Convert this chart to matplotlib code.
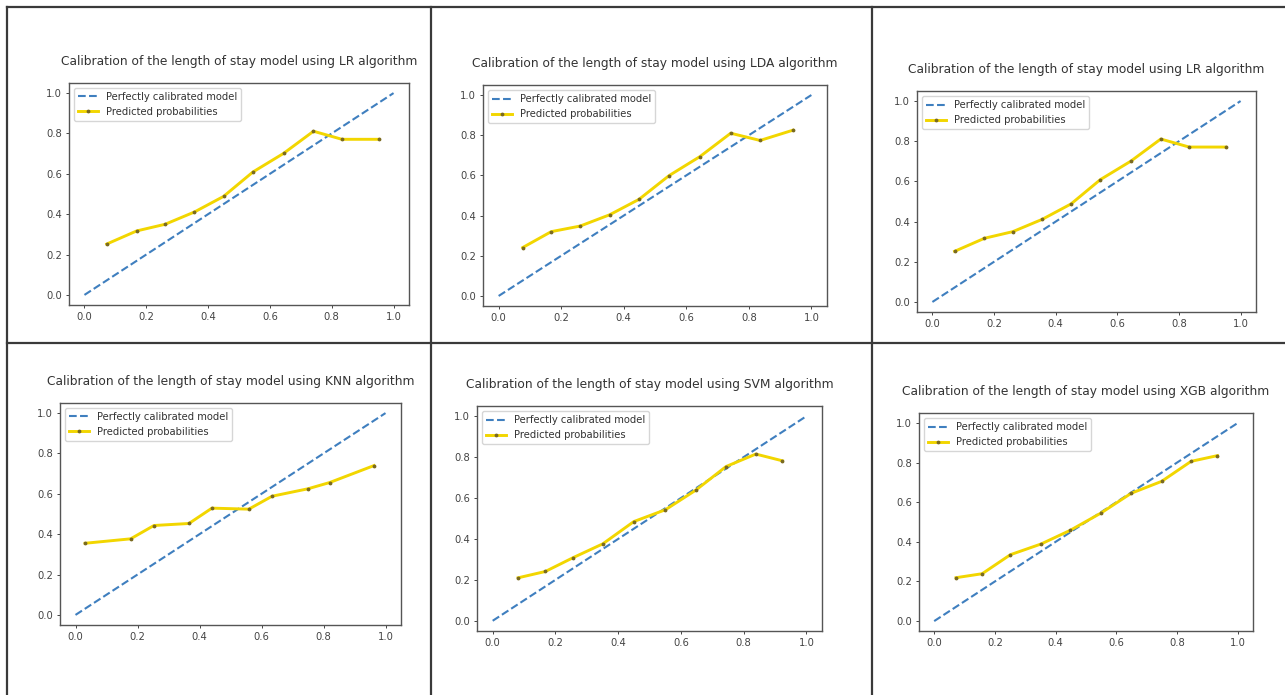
import matplotlib
matplotlib.use("Agg")
import matplotlib.pyplot as plt
from matplotlib.lines import Line2D

# Calibration curves (mean predicted prob, fraction of positives)
lr_pred = [0.072, 0.169, 0.261, 0.356, 0.450, 0.545, 0.644, 0.741, 0.833, 0.952]
lr_frac = [0.252, 0.317, 0.350, 0.411, 0.488, 0.609, 0.701, 0.811, 0.771, 0.771]

lda_pred = [0.077, 0.168, 0.261, 0.355, 0.449, 0.545, 0.644, 0.742, 0.836, 0.941]
lda_frac = [0.241, 0.320, 0.348, 0.404, 0.481, 0.599, 0.694, 0.810, 0.774, 0.825]

knn_pred = [0.031, 0.178, 0.253, 0.366, 0.440, 0.559, 0.634, 0.750, 0.820, 0.963]
knn_frac = [0.355, 0.377, 0.443, 0.453, 0.529, 0.524, 0.588, 0.625, 0.656, 0.740]

svm_pred = [0.081, 0.168, 0.257, 0.351, 0.450, 0.551, 0.648, 0.744, 0.839, 0.924]
svm_frac = [0.210, 0.241, 0.309, 0.376, 0.485, 0.543, 0.639, 0.754, 0.815, 0.782]

xgb_pred = [0.072, 0.158, 0.251, 0.352, 0.448, 0.548, 0.649, 0.749, 0.846, 0.933]
xgb_frac = [0.219, 0.239, 0.335, 0.389, 0.458, 0.544, 0.645, 0.705, 0.806, 0.835]

diag = [0, 1]
ticks = [0.0, 0.2, 0.4, 0.6, 0.8, 1.0]

W, H = 1285, 695
fig = plt.figure(figsize=(W / 100, H / 100), dpi=100)
fig.patch.set_facecolor("white")

# panel layout in pixels: left, right, top, bottom
panels = [
    ("LR", lr_pred, lr_frac, (69, 409, 83, 305)),
    ("LDA", lda_pred, lda_frac, (483, 827, 85, 306)),
    ("LR", lr_pred, lr_frac, (917, 1256, 91, 312)),
    ("KNN", knn_pred, knn_frac, (60, 401, 403, 625)),
    ("SVM", svm_pred, svm_frac, (477, 822, 406, 631)),
    ("XGB", xgb_pred, xgb_frac, (919, 1253, 413, 631)),
]

for name, xp, yf, (l, r, t, b) in panels:
    ax = fig.add_axes([l / W, 1 - b / H, (r - l) / W, (b - t) / H])
    ax.plot(diag, diag, "--", color="#3f7fbf", lw=1.5, label="Perfectly calibrated model")
    ax.plot(xp, yf, color="#f2d600", lw=2.1, marker=".", markersize=3.5,
            markerfacecolor="#7a6a20", markeredgecolor="#7a6a20",
            label="Predicted probabilities")
    ax.set_xticks(ticks)
    ax.set_yticks(ticks)
    ax.tick_params(labelsize=7.2, colors="#444444", length=2.5, width=0.7, pad=2.5)
    for sp in ax.spines.values():
        sp.set_color("#555555")
        sp.set_linewidth(1.0)
    ax.set_title(f"Calibration of the length of stay model using {name} algorithm",
                 fontsize=8.8, color="#333333", pad=13)
    leg = ax.legend(loc="upper left", fontsize=7.2, fancybox=True, framealpha=0.8)
    for txt in leg.get_texts():
        txt.set_color("#333333")

# table borders around the panels
def px_line(x0, y0, x1, y1):
    fig.add_artist(Line2D([x0 / W, x1 / W], [1 - y0 / H, 1 - y1 / H],
                          color="#3a3a3a", lw=1.6, transform=fig.transFigure))

px_line(7, 7, W, 7)
px_line(7, 343, W, 343)
px_line(7, 7, 7, H)
px_line(431, 7, 431, H)
px_line(872, 7, 872, H)

fig.savefig("out.png", dpi=100, facecolor="white")
